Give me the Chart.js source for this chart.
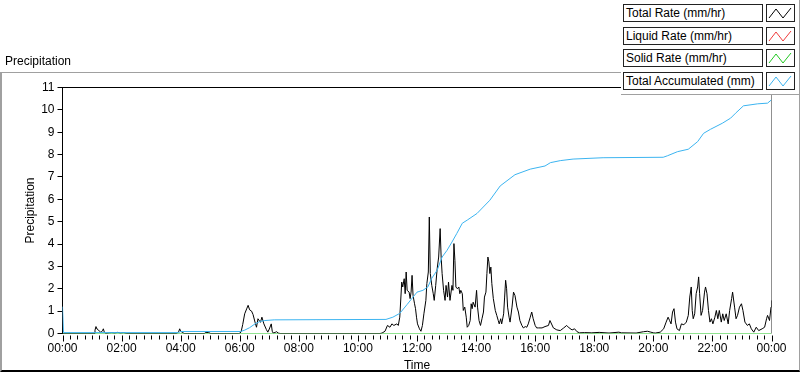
<!DOCTYPE html>
<html>
<head>
<meta charset="utf-8">
<script src="https://cdn.jsdelivr.net/npm/chart.js@4/dist/chart.umd.min.js"></script>
<style>
  html, body { margin: 0; padding: 0; background: #fff; }
  * { box-sizing: border-box; }
  #wrap { position: relative; width: 800px; height: 373px; overflow: hidden; font-family: "Liberation Sans", Arial, sans-serif; }
  #frame { position: absolute; left: 0; top: 72px; width: 800px; height: 300px;
           border-left: 2px solid #a0a0a0; border-top: 1px solid #a0a0a0; border-right: 1px solid #a0a0a0; border-bottom: 2px solid #000; }
  #chart { position: absolute; left: 0; top: 0; }
  #legend { position: absolute; left: 621px; top: 0; width: 179px; height: 95px; background: #fff;
            border-bottom: 1px solid #a0a0a0; border-right: 1px solid #a0a0a0; }
  .lbl { position: absolute; left: 2px; width: 140px; height: 18px; border: 1px solid #222; background: #fff;
         font-size: 12px; line-height: 16px; padding-left: 2px; color: #000; white-space: nowrap; }
  .sw { position: absolute; left: 145px; width: 29px; height: 18px; border: 1px solid #222; background: #fff; }
  .sw svg { position: absolute; left: 0; top: 0; }
</style>
</head>
<body>
<div id="wrap">
  <div id="frame"></div>
  <canvas id="chart" width="800" height="373"></canvas>
  <div id="legend"></div>
</div>
<script>
// ---- data (minutes since 00:00) ----
const seriesNames = ['Total Rate (mm/hr)', 'Liquid Rate (mm/hr)', 'Solid Rate (mm/hr)', 'Total Accumulated (mm)'];
const seriesColors = ['#000000', '#f03c3c', '#22c822', '#3cb4f0'];
const timeLabels = ['00:00','02:00','04:00','06:00','08:00','10:00','12:00','14:00','16:00','18:00','20:00','22:00','00:00'];
const yTickValues = [0,1,2,3,4,5,6,7,8,9,10,11];

const rateTimes = [0,64,66,68,70,72,75,78,81,83,85,88,96,100,106,112,118,124,130,232,236,238,240,243,247,288,291,297,301,358,
  361,363,366,370,374,377,380,384,387,391,394,397,402,405,409,414,417,420,424,426,428,432,435,438,442,645,
  649,655,660,665,669,673,679,682,685,689,691,694,696,698,700,704,706,708,710,712,715,717,719,721,725,728,
  731,734,738,740,743,745,747,750,753,755,758,761,764,767,769,771,774,777,779,782,784,787,791,793,795,797,
  799,802,805,807,809,812,814,817,820,822,825,828,830,832,834,838,841,843,846,849,852,855,857,860,862,864,
  866,868,870,872,875,879,882,885,887,890,892,896,898,900,902,904,907,909,913,916,919,923,926,929,933,936,
  940,943,946,950,953,956,960,963,967,974,980,987,990,997,1004,1011,1018,1024,1029,1035,1040,1045,1050,1060,
  1075,1090,1110,1130,1135,1165,1180,1188,1195,1200,1204,1214,1221,1226,1230,1233,1236,1239,1242,1245,1248,
  1253,1257,1262,1267,1271,1274,1277,1279,1281,1284,1287,1290,1292,1294,1297,1300,1304,1306,1309,1312,1315,
  1318,1321,1325,1328,1331,1334,1338,1341,1344,1348,1352,1355,1359,1361,1365,1368,1371,1375,1379,1382,1386,
  1391,1395,1399,1404,1409,1414,1421,1426,1430,1432,1436,1439,1440];
const totalRate = [0,0,0.15,0.31,0.2,0.18,0.1,0.05,0.12,0.21,0.05,0,0.03,0.04,0.02,0.05,0.02,0.04,0,0,0.08,0.21,0.1,0.06,0,0,0.05,0.04,0,0,
  0.02,0.1,0.4,0.88,1.1,1.26,1.06,1.0,0.85,0.51,0.28,0.66,0.5,0.73,0.43,0.18,0.06,0.2,0.43,0.1,0.02,0.05,0.08,0.02,0,0,
  0.02,0.1,0.36,0.28,0.43,0.36,0.43,0.36,0.73,2.3,2.08,2.45,1.78,2.75,1.93,1.85,1.56,1.85,2.6,1.7,1.33,1.11,0.73,0.43,0.21,0.1,
  0.36,0.88,1.48,2.23,2.75,5.21,2.68,2.15,1.78,1.48,2.15,2.9,3.42,4.69,3.42,2.68,1.93,1.48,2.15,1.63,2.3,1.48,2.15,1.93,4.02,3.27,
  2.08,2.0,2.08,1.78,1.93,1.78,1.03,1.18,0.73,0.28,0.36,0.58,1.33,1.11,1.4,1.18,1.93,1.18,0.58,0.36,0.66,0.96,1.63,1.85,2.68,3.42,
  3.2,2.68,2.97,2.23,1.56,1.03,0.81,0.58,0.43,0.66,0.43,0.88,1.63,2.38,2.0,1.18,0.73,0.51,1.18,1.85,1.7,1.18,0.96,0.58,0.36,0.25,
  0.31,0.28,0.43,0.73,0.96,0.66,0.36,0.25,0.25,0.25,0.31,0.36,0.58,0.25,0.16,0.13,0.25,0.36,0.25,0.16,0.21,0.08,0.03,0.04,
  0.03,0.05,0.02,0.06,0.03,0.02,0.08,0.1,0.06,0.03,0.02,0.06,0.21,0.51,0.73,0.58,0.43,0.96,1.11,0.51,0.21,
  0.13,0.43,0.39,0.51,0.81,1.63,2.08,1.03,0.66,0.88,1.78,2.08,2.53,1.78,0.81,1.03,1.85,2.08,1.78,1.03,0.51,
  0.66,0.43,0.73,1.03,0.66,1.03,0.51,0.88,0.58,0.88,0.43,1.03,1.56,1.85,1.18,0.66,0.81,1.18,1.33,1.03,0.51,
  0.36,0.43,0.21,0.06,0.28,0.13,0.21,0.28,0.66,0.81,0.58,1.18,1.48];

const liquidTimes = [];
const liquidRate = [];

const solidTimes = [0, 1440];
const solidRate = [0, 0];

const accTimes = [0,2,236,240,362,370,380,391,401,411,430,657,671,685,700,712,720,732,742,750,761,771,781,791,801,812,822,842,868,
  889,919,950,980,991,1011,1037,1098,1220,1229,1249,1271,1290,1302,1316,1340,1357,1367,1383,1412,1432,1440];
const totalAccumulated = [1.2,0.04,0.04,0.09,0.09,0.15,0.26,0.43,0.54,0.58,0.61,0.63,0.73,0.9,1.3,1.63,1.85,1.93,2.08,2.47,2.83,3.42,3.72,4.09,4.48,4.93,5.07,5.37,5.96,
  6.6,7.1,7.35,7.49,7.64,7.73,7.8,7.86,7.88,7.95,8.13,8.24,8.58,8.95,9.13,9.4,9.63,9.85,10.18,10.27,10.3,10.45];

function pairs(ts, vs) { return ts.map((t, i) => ({ x: t, y: vs[i] })); }

// ---- legend (HTML) ----
const legendEl = document.getElementById('legend');
const rowTops = [4, 27, 49, 72];
seriesNames.forEach((name, i) => {
  const l = document.createElement('div');
  l.className = 'lbl'; l.style.top = rowTops[i] + 'px'; l.textContent = name;
  legendEl.appendChild(l);
  const s = document.createElement('div');
  s.className = 'sw'; s.style.top = rowTops[i] + 'px';
  s.innerHTML = '<svg width="27" height="16"><polyline points="2,13 9,4 16,13 24,3" fill="none" stroke="' + seriesColors[i] + '" stroke-width="1"/></svg>';
  legendEl.appendChild(s);
});

// ---- plugins ----
const framePlugin = {
  id: 'frame',
  beforeDatasetsDraw(chart) {
    const { ctx, chartArea: a } = chart;
    ctx.save();
    ctx.lineWidth = 1;
    ctx.strokeStyle = '#000';
    ctx.beginPath(); ctx.moveTo(a.left, a.top); ctx.lineTo(a.right, a.top); ctx.stroke();
    ctx.strokeStyle = '#909090';
    ctx.beginPath(); ctx.moveTo(a.right, a.top); ctx.lineTo(a.right, a.bottom); ctx.stroke();
    ctx.restore();
  },
  afterDraw(chart) {
    const { ctx, chartArea: a } = chart;
    const xs = chart.scales.x;
    ctx.save();
    ctx.lineWidth = 1;
    ctx.strokeStyle = '#000';
    for (let m = xs.min; m <= xs.max; m += 15) {
      const px = Math.round(xs.getPixelForValue(m)) + 0.5;
      const len = (m % 120 === 0) ? 6 : 4;
      ctx.beginPath();
      ctx.moveTo(px, a.bottom + 2);
      ctx.lineTo(px, a.bottom + 2 + len);
      ctx.stroke();
    }
    ctx.restore();
  }
};

const FONT = '"Liberation Sans", Arial, sans-serif';
Chart.defaults.color = '#000';
Chart.defaults.font.family = FONT;
Chart.defaults.font.size = 12;

new Chart(document.getElementById('chart'), {
  type: 'line',
  data: {
    datasets: [
      { label: seriesNames[0], data: pairs(rateTimes, totalRate), borderColor: seriesColors[0], order: 1 },
      { label: seriesNames[1], data: pairs(liquidTimes, liquidRate), borderColor: seriesColors[1], order: 2 },
      { label: seriesNames[2], data: pairs(solidTimes, solidRate), borderColor: seriesColors[2], order: 3 },
      { label: seriesNames[3], data: pairs(accTimes, totalAccumulated), borderColor: seriesColors[3], order: 0 }
    ]
  },
  options: {
    responsive: false,
    animation: false,
    devicePixelRatio: 1,
    layout: { padding: { left: 5, right: 28.5, top: 0, bottom: 0 } },
    elements: {
      line: { borderWidth: 1, tension: 0, fill: false },
      point: { radius: 0, hoverRadius: 0 }
    },
    plugins: {
      legend: { display: false },
      tooltip: { enabled: false },
      title: {
        display: true, text: 'Precipitation', align: 'start', color: '#000',
        font: { size: 12, weight: 'normal', family: FONT },
        padding: { top: 54, bottom: 19.1 }
      }
    },
    scales: {
      x: {
        type: 'linear', min: 0, max: 1440,
        afterFit(s) { s.height = 39.5; },
        afterBuildTicks(s) { s.ticks = timeLabels.map((_, i) => ({ value: i * 120 })); },
        ticks: {
          autoSkip: false, maxRotation: 0, minRotation: 0, padding: 2,
          callback: (v, i) => timeLabels[i]
        },
        grid: { drawOnChartArea: false, drawTicks: true, tickLength: 6, color: 'rgba(0,0,0,0)', tickColor: 'rgba(0,0,0,0)' },
        border: { display: false },
        title: { display: true, text: 'Time', color: '#000', font: { size: 12, family: FONT }, padding: { top: 0, bottom: 0 } }
      },
      y: {
        min: 0, max: 11,
        afterFit(s) { s.width = 57.5; },
        afterBuildTicks(s) { s.ticks = yTickValues.map(v => ({ value: v })); },
        ticks: { padding: 3, callback: (v) => String(v) },
        grid: { drawOnChartArea: false, drawTicks: true, tickLength: 5, tickColor: '#000' },
        border: { display: true, color: '#000', width: 1 },
        title: { display: true, text: 'Precipitation', color: '#000', font: { size: 12, family: FONT }, padding: { top: 18.5, bottom: 0 } }
      }
    }
  },
  plugins: [framePlugin]
});
</script>
</body>
</html>
